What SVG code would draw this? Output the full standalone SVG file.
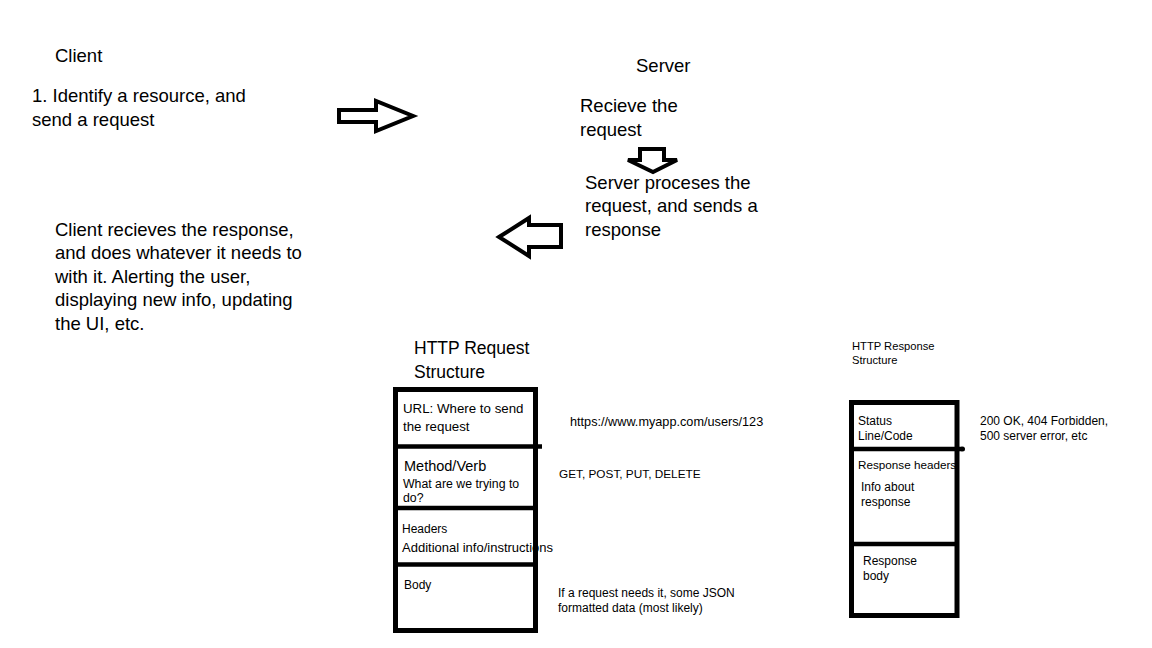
<svg xmlns="http://www.w3.org/2000/svg" width="1152" height="648" viewBox="0 0 1152 648">
<style>
text { font-family: "Liberation Sans", Arial, sans-serif; fill: #000; }
.lg { font-size: 18.5px; }
.md { font-size: 17.5px; }
.sm { font-size: 12px; }
.box { fill: none; stroke: #000; stroke-width: 5; }
.div { stroke: #000; stroke-width: 4.5; fill: none; }
.arrow { fill: #fff; stroke: #000; stroke-width: 4; stroke-linejoin: miter; }
</style>
<rect width="1152" height="648" fill="#fff"/>

<g id="client-title"><text class="lg" x="55" y="62">Client</text></g>
<g id="client-step1">
<text class="lg" x="32" y="102">1. Identify a resource, and</text>
<text class="lg" x="32" y="125.5">send a request</text>
</g>
<g id="server-title"><text class="lg" x="636" y="72">Server</text></g>
<g id="server-receive">
<text class="lg" x="580" y="112">Recieve the</text>
<text class="lg" x="580" y="135.5">request</text>
</g>
<g id="server-process">
<text class="lg" x="585" y="188.5">Server proceses the</text>
<text class="lg" x="585" y="212">request, and sends a</text>
<text class="lg" x="585" y="235.5">response</text>
</g>
<g id="client-response">
<text class="lg" x="55" y="235.5">Client recieves the response,</text>
<text class="lg" x="55" y="259">and does whatever it needs to</text>
<text class="lg" x="55" y="282.5">with it. Alerting the user,</text>
<text class="lg" x="55" y="306">displaying new info, updating</text>
<text class="lg" x="55" y="329.5">the UI, etc.</text>
</g>

<g id="connectors">
<polygon class="arrow" points="339,110 376,110 376,101 413,116 376,131 376,122 339,122"/>
<polygon class="arrow" points="640,149 664,149 664,160 677,160 653,172 628,160 640,160"/>
<polygon class="arrow" points="499,237 529,218 529,225 561,225 561,247 529,247 529,256"/>
</g>

<g id="http-request">
<text class="md" x="414" y="354">HTTP Request</text>
<text class="md" x="414" y="378">Structure</text>
<rect class="box" x="395.5" y="389.5" width="140" height="241"/>
<line class="div" x1="395" y1="446.5" x2="542" y2="446.5"/>
<line class="div" x1="395" y1="508" x2="536" y2="508"/>
<line class="div" x1="395" y1="564.5" x2="536" y2="564.5"/>
<text x="403" y="413" font-size="13.3">URL: Where to send</text>
<text x="403" y="431" font-size="13.3">the request</text>
<text x="404" y="471" font-size="14.5">Method/Verb</text>
<text x="403" y="487.5" font-size="12.3">What are we trying to</text>
<text x="403" y="502" font-size="12.3">do?</text>
<text x="402" y="533" font-size="12">Headers</text>
<text x="402" y="552" font-size="13">Additional info/instructions</text>
<text x="404" y="589" font-size="12">Body</text>
</g>
<g id="request-notes">
<text x="570" y="425.5" font-size="12.7">https://www.myapp.com/users/123</text>
<text x="559" y="477.5" font-size="11.8">GET, POST, PUT, DELETE</text>
<text class="sm" x="558" y="597">If a request needs it, some JSON</text>
<text class="sm" x="558" y="612">formatted data (most likely)</text>
</g>

<g id="http-response">
<text x="852" y="349.5" font-size="11.2">HTTP Response</text>
<text x="852" y="363.5" font-size="11.2">Structure</text>
<rect class="box" x="851.5" y="402.5" width="105.5" height="213"/>
<line class="div" x1="851" y1="449" x2="962" y2="449"/>
<circle cx="962.5" cy="449" r="2.5" fill="#000"/>
<line class="div" x1="851" y1="544" x2="957" y2="544"/>
<text class="sm" x="858" y="425">Status</text>
<text class="sm" x="858" y="440">Line/Code</text>
<text x="858" y="468.5" font-size="11.7">Response headers</text>
<text class="sm" x="861" y="491">Info about</text>
<text class="sm" x="861" y="506">response</text>
<text class="sm" x="863" y="565">Response</text>
<text class="sm" x="863" y="580">body</text>
</g>
<g id="response-notes">
<text class="sm" x="980" y="424.5">200 OK, 404 Forbidden,</text>
<text class="sm" x="980" y="439.5">500 server error, etc</text>
</g>
</svg>
